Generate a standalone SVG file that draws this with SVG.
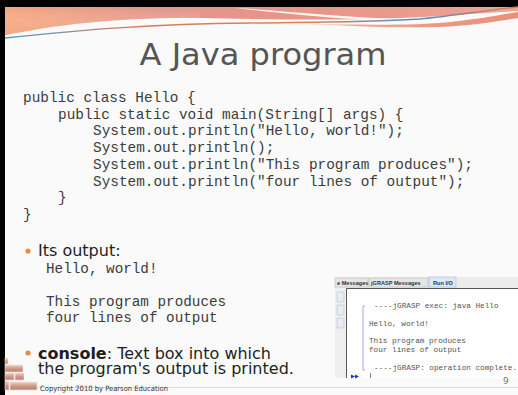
<svg xmlns="http://www.w3.org/2000/svg" width="518" height="395" viewBox="0 0 518 395">
  <defs>
    <linearGradient id="gTop" x1="0" y1="0" x2="1" y2="0">
      <stop offset="0" stop-color="#f4a47a"/>
      <stop offset="0.3" stop-color="#e3938a"/>
      <stop offset="0.7" stop-color="#e8978a"/>
      <stop offset="1" stop-color="#f0a696"/>
    </linearGradient>
    <linearGradient id="gTopV" x1="0" y1="0" x2="0" y2="1">
      <stop offset="0" stop-color="#ffffff" stop-opacity="0"/>
      <stop offset="1" stop-color="#f7a870" stop-opacity="0.5"/>
    </linearGradient>
    <linearGradient id="gBand" x1="0" y1="0" x2="1" y2="0">
      <stop offset="0" stop-color="#f3b09a" stop-opacity="0"/>
      <stop offset="0.3" stop-color="#f0a58c"/>
      <stop offset="1" stop-color="#ea8f78"/>
    </linearGradient>
    <linearGradient id="gLine" x1="0" y1="0" x2="1" y2="0">
      <stop offset="0" stop-color="#3f9fd2"/>
      <stop offset="0.25" stop-color="#d97a5c"/>
      <stop offset="0.6" stop-color="#e08050"/>
      <stop offset="0.8" stop-color="#4b8fc8"/>
      <stop offset="1" stop-color="#e07850"/>
    </linearGradient>
    <linearGradient id="gBrick" x1="0" y1="0" x2="0" y2="1">
      <stop offset="0" stop-color="#ecd0c4"/>
      <stop offset="0.5" stop-color="#d09a88"/>
      <stop offset="1" stop-color="#bc7e6c"/>
    </linearGradient>
    <style>
      .code { font-family: "Liberation Mono", "Courier New", monospace; font-size: 14.4px; fill: #3c3c3c; white-space: pre; }
      .out { font-family: "Liberation Mono", "Courier New", monospace; font-size: 14.3px; fill: #3c3c3c; white-space: pre; }
      .body { font-family: "DejaVu Sans", Verdana, sans-serif; font-size: 16px; fill: #1e1e1e; }
      .bullet { fill: #f08a3a; }
      .con { font-family: "Liberation Mono", "Courier New", monospace; font-size: 7.7px; fill: #555555; white-space: pre; }
      .tab { font-family: "Liberation Sans", Arial, sans-serif; font-size: 5.6px; font-weight: bold; fill: #333333; }
      .brick { fill: url(#gBrick); stroke: #f4e4dc; stroke-width: 0.6; }
    </style>
  </defs>

  <!-- slide background and frame -->
  <rect x="0" y="0" width="518" height="395" fill="#fafafa"/>
  <rect x="0" y="0" width="518" height="7" fill="#000000"/>
  <rect x="0" y="0" width="5" height="395" fill="#000000"/>

  <!-- header swoosh -->
  <g id="header">
    <path d="M5,7 H518 V11 C470,14 430,17 400,18 C330,21 260,19 200,18 C120,17 60,24 5,35 Z" fill="url(#gTop)"/>
    <path d="M5,7 H200 V18 C120,17 60,24 5,35 Z" fill="url(#gTopV)"/>
    <path d="M235,8 C290,11 340,17 400,19 C440,20 480,17 518,14 L518,16 C480,20 440,22 400,21 C340,20 290,14 235,8 Z" fill="#ffffff" opacity="0.9"/>
    <path d="M290,23 C350,25 410,26 450,22 C480,19 500,15 518,12 L518,18 C495,22 470,26 440,27 C390,28 340,26 290,23 Z" fill="url(#gBand)"/>
    <path d="M5,38 C80,30 150,24 250,23 C320,22 380,22 420,19 C450,16 480,11 518,7" fill="none" stroke="url(#gLine)" stroke-width="1.4"/>
  </g>

  <!-- title -->
  <g id="title">
    <text x="263" y="65" text-anchor="middle" font-family="DejaVu Sans, Verdana, sans-serif" font-size="31" fill="#555555" textLength="247" lengthAdjust="spacingAndGlyphs">A Java program</text>
  </g>

  <!-- code -->
  <g id="code">
    <text class="code" x="23" y="102">public class Hello {</text>
    <text class="code" x="58" y="118.7">public static void main(String[] args) {</text>
    <text class="code" x="93" y="135.4">System.out.println("Hello, world!");</text>
    <text class="code" x="93" y="152">System.out.println();</text>
    <text class="code" x="93" y="168.8">System.out.println("This program produces");</text>
    <text class="code" x="93" y="185.5">System.out.println("four lines of output");</text>
    <text class="code" x="58" y="202">}</text>
    <text class="code" x="23" y="219">}</text>
  </g>

  <!-- output bullet -->
  <g id="output">
    <circle class="bullet" cx="28" cy="251" r="2.6"/>
    <text class="body" x="38" y="256">Its output:</text>
    <text class="out" x="46" y="273">Hello, world!</text>
    <text class="out" x="46" y="306">This program produces</text>
    <text class="out" x="46" y="322">four lines of output</text>
  </g>

  <!-- console screenshot -->
  <g id="console-shot">
    <rect x="335" y="277" width="183" height="11" fill="#ececec"/>
    <rect x="335" y="278" width="33" height="9" fill="#e6e6e6" stroke="#b0b0b0" stroke-width="0.5"/>
    <text class="tab" x="337" y="285">e Messages</text>
    <rect x="369" y="278" width="59" height="9" fill="#e6e6e6" stroke="#b0b0b0" stroke-width="0.5"/>
    <text class="tab" x="371" y="285">jGRASP Messages</text>
    <rect x="429" y="277" width="27" height="10" fill="#dce8f6" stroke="#9aaccc" stroke-width="0.5"/>
    <text class="tab" x="433" y="285">Run I/O</text>
    <rect x="335" y="288" width="11" height="90" fill="#efefef"/>
    <rect x="337" y="292" width="7" height="10" rx="1" fill="#e8ecf3" stroke="#aab4c4" stroke-width="0.5"/>
    <rect x="337" y="305" width="7" height="10" rx="1" fill="#e8ecf3" stroke="#aab4c4" stroke-width="0.5"/>
    <rect x="337" y="318" width="7" height="10" rx="1" fill="#e8ecf3" stroke="#aab4c4" stroke-width="0.5"/>
    <rect x="346" y="288" width="172" height="90" fill="#ffffff"/>
    <path d="M346.5,378 V288.5 H518" fill="none" stroke="#555555" stroke-width="1"/>
    <path d="M365,306 H363 V370 H365" fill="none" stroke="#8a94e0" stroke-width="0.8"/>
    <text class="con" x="374" y="308">----jGRASP exec: java Hello</text>
    <text class="con" x="369" y="326">Hello, world!</text>
    <text class="con" x="369" y="343">This program produces</text>
    <text class="con" x="369" y="352">four lines of output</text>
    <text class="con" x="374" y="370">----jGRASP: operation complete.</text>
    <path d="M351,374.5 L355,376.5 L351,378.5 Z M355,374.5 L359,376.5 L355,378.5 Z" fill="#2030d0"/>
    <line x1="370.5" y1="373" x2="370.5" y2="378" stroke="#666666" stroke-width="0.8"/>
  </g>

  <!-- console bullet -->
  <g id="console-bullet">
    <circle class="bullet" cx="28" cy="353" r="2.6"/>
    <text class="body" x="38" y="358.5"><tspan font-weight="bold">console</tspan>: Text box into which</text>
    <text class="body" x="38" y="374">the program's output is printed.</text>
  </g>

  <!-- footer -->
  <g id="footer">
    <line x1="36" y1="387.5" x2="518" y2="387.5" stroke="#dddddd" stroke-width="1"/>
    <rect class="brick" x="5" y="358" width="3" height="6"/>
    <rect class="brick" x="5" y="365" width="18" height="7"/>
    <rect class="brick" x="5" y="373" width="9" height="7"/>
    <rect class="brick" x="15" y="373" width="9" height="7"/>
    <rect class="brick" x="5" y="381" width="4" height="9"/>
    <rect class="brick" x="10" y="382" width="27" height="8"/>
    <text x="40" y="391" font-family="DejaVu Sans, Verdana, sans-serif" font-size="7.3" fill="#333333" textLength="128" lengthAdjust="spacingAndGlyphs">Copyright 2010 by Pearson Education</text>
    <text x="503" y="384" font-family="DejaVu Sans, Verdana, sans-serif" font-size="9" fill="#777777">9</text>
  </g>
</svg>
